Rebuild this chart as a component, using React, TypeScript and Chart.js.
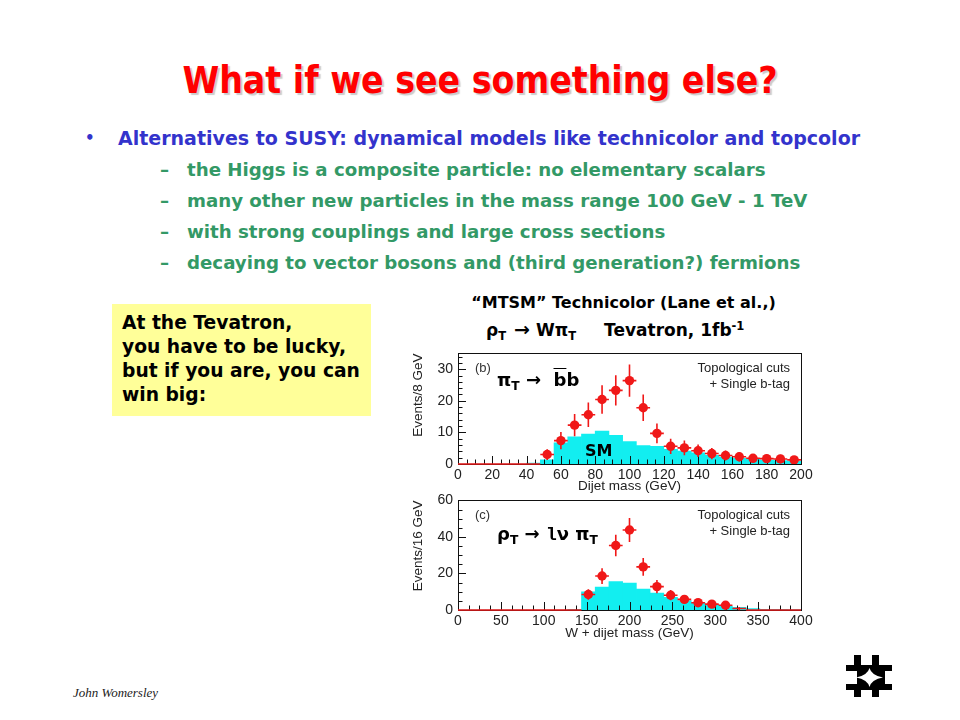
import React, { useEffect, useRef } from 'react';
import { Chart, registerables } from 'chart.js';

Chart.register(...registerables);

// ---------- Panel (b): dijet mass, 8 GeV bins ----------
const B_BIN_CENTERS = [4, 12, 20, 28, 36, 44, 52, 60, 68, 76, 84, 92, 100, 108, 116, 124, 132, 140, 148, 156, 164, 172, 180, 188, 196];
const B_DATA = [0, 0, 0, 0, 0, 0, 3.0, 7.4, 12.3, 15.6, 20.4, 23.3, 26.4, 17.8, 9.7, 5.6, 5.1, 4.2, 3.3, 2.7, 2.3, 1.8, 1.7, 1.6, 1.3];
const B_ERR = [0, 0, 0, 0, 0, 0, 1.7, 2.7, 3.5, 3.9, 4.5, 4.8, 5.1, 4.2, 3.1, 2.4, 2.3, 2.0, 1.8, 1.6, 1.5, 1.3, 1.3, 1.3, 1.1];
const B_SM = [0, 0, 0, 0, 0, 0.3, 1.3, 6.7, 8.6, 9.5, 10.4, 9.1, 7.1, 5.8, 5.6, 4.65, 4.1, 3.55, 2.75, 2.2, 1.8, 1.45, 1.25, 1.05, 0.85];
const B_X_TICKS = [0, 20, 40, 60, 80, 100, 120, 140, 160, 180, 200];
const B_Y_TICKS = [0, 10, 20, 30];

// ---------- Panel (c): W + dijet mass, 16 GeV bins ----------
const C_BIN_CENTERS = [8, 24, 40, 56, 72, 88, 104, 120, 136, 152, 168, 184, 200, 216, 232, 248, 264, 280, 296, 312, 328, 344, 360, 376, 392];
const C_DATA = [0, 0, 0, 0, 0, 0, 0, 0, 0, 8.5, 18.6, 35.3, 43.8, 23.6, 12.8, 8.1, 5.8, 4.0, 3.2, 2.6, 0.8, 0, 0, 0, 0];
const C_ERR = [0, 0, 0, 0, 0, 0, 0, 0, 0, 2.9, 4.3, 5.9, 6.6, 4.9, 3.6, 2.8, 2.4, 2.0, 1.8, 1.6, 0.9, 0, 0, 0, 0];
const C_SM = [0, 0, 0, 0, 0, 0, 0, 0, 0.3, 10, 12.5, 15.5, 14.8, 11.5, 9.2, 7, 5.2, 4, 3, 2.2, 1.5, 0.8, 0.4, 0.3, 0.2];
const C_X_TICKS = [0, 50, 100, 150, 200, 250, 300, 350, 400];
const C_Y_TICKS = [0, 20, 40, 60];

const RED = '#f01818';
const CYAN = '#12eef0';
const AXIS_FONT = 'Liberation Sans, Arial, sans-serif';
const COND = '"DejaVu Sans Condensed", "DejaVu Sans", sans-serif';
const DEJA = '"DejaVu Sans", sans-serif';

type HistoProps = {
  left: number; top: number; width: number; height: number;
  padTop: number; padRight: number; yAxisW: number; xAxisH: number;
  centers: number[]; data: number[]; err: number[]; sm: number[];
  halfWidth: number; xMax: number; yMax: number;
  xTicks: number[]; yTicks: number[];
  xMajor: number; xMinor: number; yMajor: number; yMinor: number;
  xTitle: string; yTitle: string;
};

function Histo(p: HistoProps) {
  const ref = useRef<HTMLCanvasElement>(null);
  useEffect(() => {
    if (!ref.current) return;
    const overlay = {
      id: 'rootOverlay',
      beforeDatasetDraw(chart: any, args: any) {
        if (args.index !== 1) return;
        const { ctx, chartArea: a, scales } = chart;
        const xs = scales.x, ys = scales.y;
        ctx.save();
        ctx.strokeStyle = '#111';
        ctx.lineWidth = 1;
        ctx.strokeRect(Math.round(a.left) + 0.5, Math.round(a.top) + 0.5, Math.round(a.right - a.left), Math.round(a.bottom - a.top));
        ctx.beginPath();
        for (let v = xs.min; v <= xs.max + 1e-9; v += p.xMinor) {
          const px = Math.round(xs.getPixelForValue(v)) + 0.5;
          const major = Math.abs(v / p.xMajor - Math.round(v / p.xMajor)) < 1e-6;
          const len = major ? 8 : 4.5;
          ctx.moveTo(px, a.bottom);
          ctx.lineTo(px, a.bottom - len);
        }
        for (let v = ys.min; v <= ys.max + 1e-9; v += p.yMinor) {
          const py = Math.round(ys.getPixelForValue(v)) + 0.5;
          const major = Math.abs(v / p.yMajor - Math.round(v / p.yMajor)) < 1e-6;
          const len = major ? 8 : 4.5;
          ctx.moveTo(a.left, py);
          ctx.lineTo(a.left + len, py);
        }
        ctx.stroke();
        ctx.strokeStyle = RED;
        ctx.lineWidth = 1.6;
        ctx.beginPath();
        p.centers.forEach((c, i) => {
          const v = p.data[i];
          const px = xs.getPixelForValue(c);
          const py = ys.getPixelForValue(v);
          ctx.moveTo(xs.getPixelForValue(c - p.halfWidth), py);
          ctx.lineTo(xs.getPixelForValue(c + p.halfWidth), py);
          if (p.err[i] > 0) {
            ctx.moveTo(px, ys.getPixelForValue(v - p.err[i]));
            ctx.lineTo(px, ys.getPixelForValue(v + p.err[i]));
          }
        });
        ctx.stroke();
        ctx.restore();
      },
    };
    const tickFont = { family: AXIS_FONT, size: 14 };
    const titleFont = { family: AXIS_FONT, size: 13.5 };
    const chart = new Chart(ref.current, {
      type: 'bar',
      data: {
        datasets: [
          {
            type: 'bar',
            data: p.centers.map((c, i) => ({ x: c, y: p.sm[i] })),
            backgroundColor: CYAN,
            borderWidth: 0,
            barPercentage: 1,
            categoryPercentage: 1,
            order: 2,
          } as any,
          {
            type: 'scatter',
            data: p.centers.map((c, i) => ({ x: c, y: p.data[i] })),
            pointRadius: (ctx: any) => (ctx.raw && ctx.raw.y >= 1 ? 4.7 : 0),
            backgroundColor: RED,
            borderWidth: 0,
            order: 1,
          } as any,
        ],
      },
      options: {
        animation: false,
        responsive: false,
        events: [],
        layout: { padding: { top: p.padTop, right: p.padRight, left: 0, bottom: 0 } },
        plugins: { legend: { display: false }, tooltip: { enabled: false } },
        scales: {
          x: {
            type: 'linear',
            offset: false,
            min: 0,
            max: p.xMax,
            grid: { display: false, drawTicks: false, offset: false },
            border: { display: false },
            afterBuildTicks: (s: any) => { s.ticks = p.xTicks.map((v) => ({ value: v })); },
            afterFit: (s: any) => { s.height = p.xAxisH; },
            ticks: { font: tickFont, color: '#222', padding: 3, maxRotation: 0, autoSkip: false },
            title: { display: true, text: p.xTitle, font: titleFont, color: '#222', padding: { top: 0, bottom: 6 } },
          },
          y: {
            type: 'linear',
            min: 0,
            max: p.yMax,
            grid: { display: false, drawTicks: false },
            border: { display: false },
            afterBuildTicks: (s: any) => { s.ticks = p.yTicks.map((v) => ({ value: v })); },
            afterFit: (s: any) => { s.width = p.yAxisW; },
            ticks: { font: tickFont, color: '#222', padding: 5, autoSkip: false },
            title: { display: true, text: p.yTitle, align: 'end', font: titleFont, color: '#222', padding: { top: 10, bottom: 0 } },
          },
        },
      } as any,
      plugins: [overlay],
    });
    return () => chart.destroy();
  }, []);
  return (
    <canvas
      ref={ref}
      width={p.width}
      height={p.height}
      style={{ position: 'absolute', left: p.left, top: p.top, width: p.width, height: p.height }}
    />
  );
}

const abs = (left: number, top: number, extra: React.CSSProperties = {}): React.CSSProperties => ({
  position: 'absolute', left, top, whiteSpace: 'nowrap', ...extra,
});
const sub: React.CSSProperties = { fontSize: '0.68em', verticalAlign: '-0.3em' };
const sup: React.CSSProperties = { fontSize: '0.68em', verticalAlign: '0.55em' };

const BULLET_MAIN = 'Alternatives to SUSY: dynamical models like technicolor and topcolor';
const BULLET_SUBS = [
  'the Higgs is a composite particle: no elementary scalars',
  'many other new particles in the mass range 100 GeV - 1 TeV',
  'with strong couplings and large cross sections',
  'decaying to vector bosons and (third generation?) fermions',
];
const BOX_LINES = ['At the Tevatron,', 'you have to be lucky,', 'but if you are, you can', 'win big:'];

export default function App() {
  const blue: React.CSSProperties = { fontFamily: DEJA, fontWeight: 'bold', fontSize: 19, lineHeight: '31px', color: '#3333cc' };
  const green: React.CSSProperties = { fontFamily: DEJA, fontWeight: 'bold', fontSize: 18.2, lineHeight: '31px', color: '#339966' };
  return (
    <div style={{ position: 'absolute', left: 0, top: 0, width: 960, height: 720, background: '#fff', overflow: 'hidden' }}>
      {/* Title */}
      <div
        style={{
          position: 'absolute', left: 0, top: 61, width: 960, textAlign: 'center',
          fontFamily: COND, fontWeight: 'bold', fontSize: 37, lineHeight: '40px', color: '#ff0000',
          textShadow: '2px 2px 1px rgba(140,140,140,0.45)',
        }}
      >
        What if we see something else?
      </div>

      {/* Bullets */}
      <div style={abs(85, 122.5, { ...blue, fontSize: 15 })}>•</div>
      <div style={abs(118, 122.5, blue)}>{BULLET_MAIN}</div>
      {BULLET_SUBS.map((t, i) => (
        <React.Fragment key={i}>
          <div style={abs(160, 153.5 + i * 31, green)}>–</div>
          <div style={abs(187, 153.5 + i * 31, green)}>{t}</div>
        </React.Fragment>
      ))}

      {/* Yellow box */}
      <div style={{ position: 'absolute', left: 112, top: 304, width: 259, height: 112, background: '#ffff99' }} />
      {BOX_LINES.map((t, i) => (
        <div key={i} style={abs(122, 311 + i * 24, { fontFamily: DEJA, fontWeight: 'bold', fontSize: 18.7, lineHeight: '24px', color: '#000' })}>
          {t}
        </div>
      ))}

      {/* Chart heading */}
      <div
        style={{
          position: 'absolute', left: 423, top: 291, width: 401, textAlign: 'center',
          fontFamily: DEJA, fontWeight: 'bold', fontSize: 16, lineHeight: '23px', color: '#000',
        }}
      >
        “MTSM” Technicolor (Lane et al.,)
      </div>
      <div style={abs(486, 314, { fontFamily: DEJA, fontWeight: 'bold', fontSize: 17, lineHeight: '24px', color: '#000' })}>
        ρ<span style={sub}>T</span>
        <span style={{ display: 'inline-block', margin: '0 6px 0 8px', fontSize: 19 }}>→</span>
        Wπ<span style={sub}>T</span>
        <span style={{ display: 'inline-block', width: 28 }} />
        Tevatron, 1fb<span style={sup}>-1</span>
      </div>

      {/* Panel (b) */}
      <Histo
        left={400} top={340} width={420} height={160}
        padTop={10} padRight={19} yAxisW={58} xAxisH={36}
        centers={B_BIN_CENTERS} data={B_DATA} err={B_ERR} sm={B_SM}
        halfWidth={4} xMax={200} yMax={35}
        xTicks={B_X_TICKS} yTicks={B_Y_TICKS}
        xMajor={20} xMinor={5} yMajor={10} yMinor={2}
        xTitle="Dijet mass (GeV)" yTitle="Events/8 GeV"
      />
      <div style={abs(475, 360, { fontFamily: AXIS_FONT, fontSize: 13, lineHeight: '15px', color: '#333' })}>(b)</div>
      <div style={{ ...abs(600, 360, { fontFamily: AXIS_FONT, fontSize: 13, lineHeight: '16px', color: '#222', textAlign: 'right', width: 190 }) }}>
        <div>Topological cuts</div>
        <div>+ Single b-tag</div>
      </div>
      <div style={abs(497, 368, { fontFamily: DEJA, fontWeight: 'bold', fontSize: 18, lineHeight: '24px', color: '#000' })}>
        π<span style={sub}>T</span> → &nbsp;<span style={{ textDecoration: 'overline' }}>b</span>b
      </div>
      <div style={abs(585, 441, { fontFamily: DEJA, fontWeight: 'bold', fontSize: 16, lineHeight: '20px', color: '#000' })}>SM</div>

      {/* Panel (c) */}
      <Histo
        left={400} top={487} width={420} height={160}
        padTop={10} padRight={19} yAxisW={58} xAxisH={37}
        centers={C_BIN_CENTERS} data={C_DATA} err={C_ERR} sm={C_SM}
        halfWidth={8} xMax={400} yMax={60}
        xTicks={C_X_TICKS} yTicks={C_Y_TICKS}
        xMajor={50} xMinor={12.5} yMajor={20} yMinor={5}
        xTitle="W + dijet mass (GeV)" yTitle="Events/16 GeV"
      />
      <div style={abs(475, 507, { fontFamily: AXIS_FONT, fontSize: 13, lineHeight: '15px', color: '#333' })}>(c)</div>
      <div style={{ ...abs(600, 507, { fontFamily: AXIS_FONT, fontSize: 13, lineHeight: '16px', color: '#222', textAlign: 'right', width: 190 }) }}>
        <div>Topological cuts</div>
        <div>+ Single b-tag</div>
      </div>
      <div style={abs(497, 522, { fontFamily: DEJA, fontWeight: 'bold', fontSize: 18, lineHeight: '24px', color: '#000' })}>
        ρ<span style={sub}>T</span> → <span style={{ fontFamily: '"Liberation Mono", monospace' }}>l</span>ν π<span style={sub}>T</span>
      </div>

      {/* Footer */}
      <div style={abs(73, 686, { fontFamily: '"Liberation Serif", serif', fontStyle: 'italic', fontSize: 13, lineHeight: '14px', color: '#222' })}>
        John Womersley
      </div>
      <svg style={{ position: 'absolute', left: 0, top: 0 }} width={960} height={720} viewBox="0 0 960 720">
        <g fill="#000">
          <rect x={846} y={665} width={46} height={6} />
          <rect x={846} y={684} width={46} height={6} />
          <rect x={854} y={655} width={7} height={10} />
          <rect x={872} y={655} width={7} height={10} />
          <rect x={854} y={690} width={7} height={7} />
          <rect x={872} y={690} width={7} height={7} />
          <rect x={857} y={670} width={28} height={15} />
        </g>
        <path d="M869.5,668 Q871.5,675.5 883,677.5 Q871.5,679.5 869.5,687 Q867.5,679.5 856,677.5 Q867.5,675.5 869.5,668 Z" fill="#fff" />
      </svg>
    </div>
  );
}
